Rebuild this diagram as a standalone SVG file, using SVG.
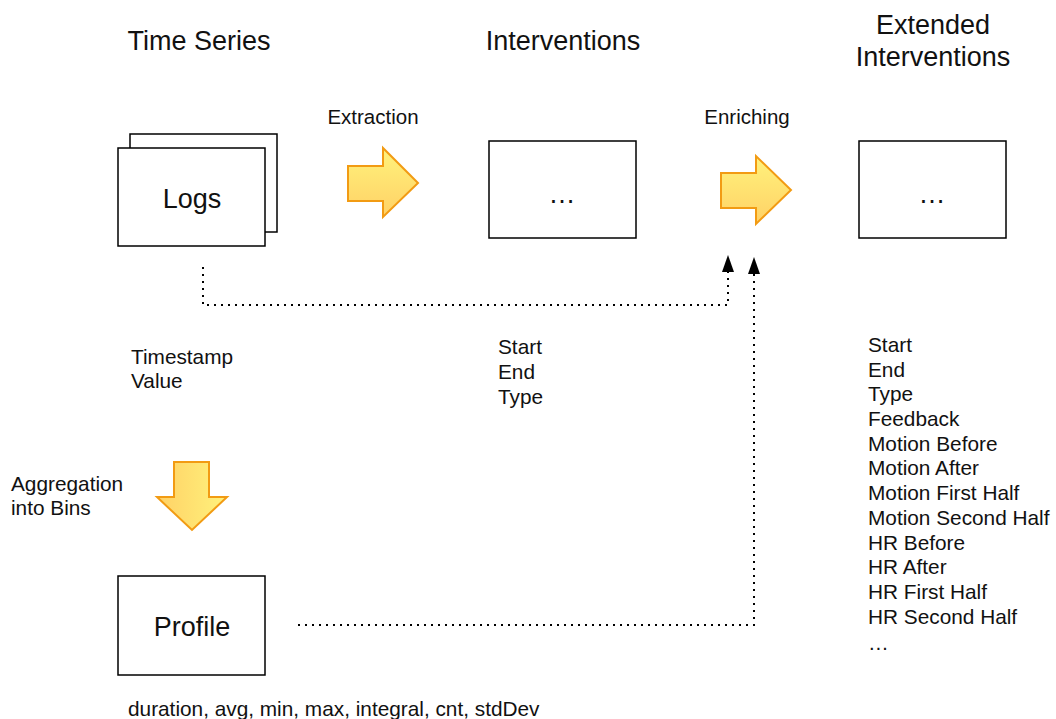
<svg xmlns="http://www.w3.org/2000/svg" width="1056" height="719" viewBox="0 0 1056 719">
<defs>
<linearGradient id="gv" x1="0" y1="0" x2="0" y2="1"><stop offset="0" stop-color="#FFF27C"/><stop offset="1" stop-color="#FFD166"/></linearGradient>
<linearGradient id="gh" x1="0" y1="0" x2="1" y2="0"><stop offset="0" stop-color="#FFD166"/><stop offset="1" stop-color="#FFF27C"/></linearGradient>
<style>
text{font-family:"Liberation Sans",Arial,Helvetica,sans-serif;fill:#111}
.t{font-size:27px;text-anchor:middle}
.n{font-size:20.8px}
.m{font-size:20.5px;text-anchor:middle}
.box{fill:#fff;stroke:#000;stroke-width:1.5}
.arr{stroke:#F29B13;stroke-width:2;stroke-linejoin:miter}
.dot{fill:none;stroke:#000;stroke-width:2;stroke-dasharray:2 5}
.head{fill:#000}
</style>
</defs>
<rect width="1056" height="719" fill="#fff"/>
<g id="titles">
<text class="t" x="199" y="50">Time Series</text>
<text class="t" x="563" y="50">Interventions</text>
<text class="t" x="933" y="34">Extended</text>
<text class="t" x="933" y="66">Interventions</text>
</g>
<g id="logs">
<rect class="box" x="130" y="134" width="147" height="98"/>
<rect class="box" x="118" y="148" width="147" height="98"/>
<text class="t" x="192" y="208">Logs</text>
</g>
<g id="extraction">
<path class="arr" fill="url(#gv)" d="M348,166 H383 V148 L418,183 L383,217 V201 H348 Z"/>
<text class="m" x="373" y="124">Extraction</text>
</g>
<g id="interventions">
<rect class="box" x="489" y="141" width="147" height="97"/>
<text class="t" x="562" y="203">…</text>
</g>
<g id="enriching">
<path class="arr" fill="url(#gv)" d="M721,173 H756 V156 L791,190 L756,224 V208 H721 Z"/>
<text class="m" x="747" y="124">Enriching</text>
</g>
<g id="extended">
<rect class="box" x="859" y="141" width="147" height="97"/>
<text class="t" x="932" y="203">…</text>
</g>
<g id="aggregation">
<path class="arr" fill="url(#gh)" d="M174,462 H209 V497 H227 L192,530 L157,497 H174 Z"/>
<text class="n" x="11" y="491">Aggregation</text>
<text class="n" x="11" y="515">into Bins</text>
</g>
<g id="profile">
<rect class="box" x="118" y="576" width="147" height="99"/>
<text class="t" x="192" y="636">Profile</text>
</g>
<g id="labels">
<text class="n" x="131" y="364">Timestamp</text>
<text class="n" x="131" y="388">Value</text>
<text class="n" x="498" y="354">Start</text>
<text class="n" x="498" y="379">End</text>
<text class="n" x="498" y="404">Type</text>
<text class="n" x="868" y="352">Start</text>
<text class="n" x="868" y="377">End</text>
<text class="n" x="868" y="401">Type</text>
<text class="n" x="868" y="426">Feedback</text>
<text class="n" x="868" y="451">Motion Before</text>
<text class="n" x="868" y="475">Motion After</text>
<text class="n" x="868" y="500">Motion First Half</text>
<text class="n" x="868" y="525">Motion Second Half</text>
<text class="n" x="868" y="550">HR Before</text>
<text class="n" x="868" y="574">HR After</text>
<text class="n" x="868" y="599">HR First Half</text>
<text class="n" x="868" y="624">HR Second Half</text>
<text class="n" x="868" y="650">…</text>
<text class="n" x="128" y="716">duration, avg, min, max, integral, cnt, stdDev</text>
</g>
<g id="connectors">
<path class="dot" d="M203,267 V305 H728 V272"/>
<path class="head" d="M728,255 L734,272 L722,272 Z"/>
<path class="dot" d="M298,625 H754 V274"/>
<path class="head" d="M754,257 L760,274 L748,274 Z"/>
</g>
</svg>
